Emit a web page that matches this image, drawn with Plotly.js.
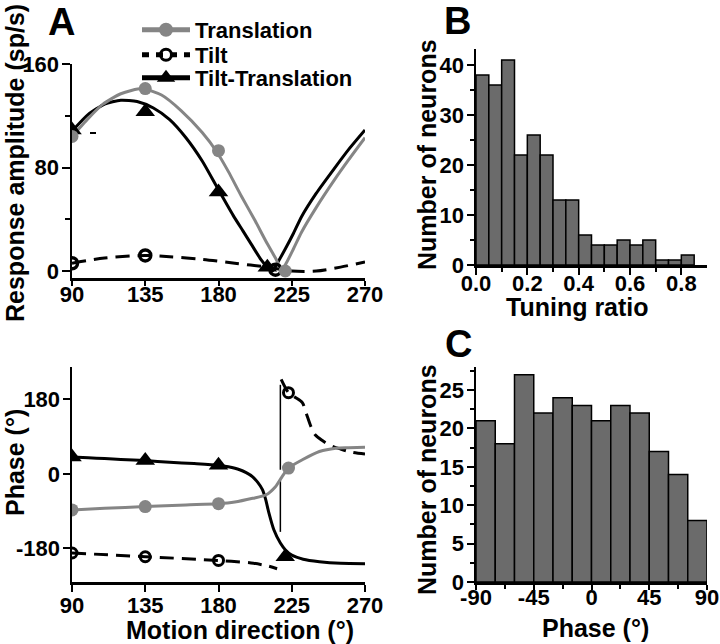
<!DOCTYPE html>
<html>
<head>
<meta charset="utf-8">
<script src="https://cdn.plot.ly/plotly-3.0.1.min.js"></script>
<style>html,body{margin:0;padding:0;background:#fff;} #chart{width:720px;height:644px;}</style>
</head>
<body>
<div id="chart"></div>
<script>
// ---------- Panel A (top): response amplitude vs motion direction ----------
const transAmpDir = [90,100,109,120,133,145,157,170,179,186,194,202,210,215,219,222,226,231,240,251,260,270];
const transAmp    = [104,118,129,137,141,136,124,107,92,77,58,40,21,10,1,7,17,30,49,70,86,103];
const transAmpMarkDir = [90,135,180,221];
const transAmpMark    = [104,141,93,0];

const tiltTransAmpDir = [90,100,110,120,130,140,150,160,170,179,189,195,200,206,210,213,217,221,226,231,240,251,260,270];
const tiltTransAmp    = [108,121,129,132,131,126,117,103,85,65,43,31,21,9,3,0,8,17,29,42,60,79,94,109];
const tiltTransAmpMarkDir = [90,135,180,210];
const tiltTransAmpMark    = [109,123,61,3];

const tiltAmpDir = [90,110,135,150,170,190,210,225,240,255,270];
const tiltAmp    = [6,10,12,11,9,6,3,0,0,3,7];
const tiltAmpMarkDir = [90,135,215];
const tiltAmpMark    = [6,12,1];

// ---------- Panel A (bottom): phase vs motion direction ----------
const transPhDir = [90,110,135,160,180,190,201,209,215,219,223,231.5,242,252,260,270];
const transPh    = [-87,-83,-79,-75,-72,-68,-59,-51,-31,-7,14,34,54,62,63,64];
const transPhMarkDir = [90,135,180,223];
const transPhMark    = [-87,-79,-72,14];

const tiltTransPhDir = [90,100,110,120,135,150,165,180,186,193,197,201,204,207,209,211,214,218,221,225,232,242,255,270];
const tiltTransPh    = [41,39,37,35,32,28,25,21,17,10,3,-7,-20,-38,-62,-95,-135,-167,-183,-196,-206,-212,-216,-217];
const tiltTransPhMarkDir = [90,135,180,221];
const tiltTransPhMark    = [41,32,21,-200];

const tiltPhDirA = [90,135,180,200,210,216];
const tiltPhA    = [-191,-200,-209,-215,-222,-229];
const tiltPhDirB = [218.5,223,227,231.5,234,237,239.5,244,248,255,262,270];
const tiltPhB    = [228,196,185,172,145,112,94,80,70,60,52,48];
const tiltPhMarkDir = [90,135,180,223];
const tiltPhMark    = [-191,-200,-209,196];
const wrapDir = [218,218,null,218,218];
const wrapPh  = [215,10,null,-15,-140];

// ---------- Panel B: tuning ratio histogram ----------
const tuningBinCenters = [0.025,0.075,0.125,0.175,0.225,0.275,0.325,0.375,0.425,0.475,0.525,0.575,0.625,0.675,0.725,0.775,0.825];
const tuningCounts     = [38,36,41,22,26,22,13,13,6,4,4,5,4,5,1,1,2];
const tuningBinWidth = 0.05;

// ---------- Panel C: phase histogram ----------
const phaseBinCenters = [-82.5,-67.5,-52.5,-37.5,-22.5,-7.5,7.5,22.5,37.5,52.5,67.5,82.5];
const phaseCounts     = [21,18,27,22,24,23,21,23,22,17,14,8];
const phaseBinWidth = 15;

// ---------- tick labels ----------
const dirTicks = [90,135,180,225,270];
const dirTickText = ['90','135','180','225','270'];
const ampTicks = [0,80,160];
const ampTickText = ['0','80','160'];
const phaseTicks = [-180,0,180];
const phaseTickText = ['-180','0','180'];
const tuningTicks = [0,0.2,0.4,0.6,0.8];
const tuningTickText = ['0.0','0.2','0.4','0.6','0.8'];
const countTicksB = [0,10,20,30,40];
const countTickTextB = ['0','10','20','30','40'];
const phaseHistTicks = [-90,-45,0,45,90];
const phaseHistTickText = ['-90','-45','0','45','90'];
const countTicksC = [0,5,10,15,20,25];
const countTickTextC = ['0','5','10','15','20','25'];

// ---------- styling ----------
const GRAY = '#858585';
const BAR = '#6b6b6b';
const FAM = 'Liberation Sans, Arial, sans-serif';
const tickFont = {family: FAM, size: 22, color: '#000', weight: 700};
const titleFont = {family: FAM, size: 25, color: '#000', weight: 'bold'};
const DASH = '14px,8px';
const bold = arr => arr.map(t => '<b>' + t + '</b>');

const px = v => v / 720;
const py = v => 1 - v / 644;

const traces = [
  // A top
  {x: tiltAmpDir, y: tiltAmp, xaxis: 'x', yaxis: 'y', mode: 'lines', line: {color: '#000', width: 3, dash: DASH, shape: 'spline', smoothing: 0.8}, showlegend: false},
  {x: tiltTransAmpDir, y: tiltTransAmp, xaxis: 'x', yaxis: 'y', mode: 'lines', line: {color: '#000', width: 3, shape: 'spline', smoothing: 0.6}, showlegend: false},
  {x: transAmpDir, y: transAmp, xaxis: 'x', yaxis: 'y', mode: 'lines', line: {color: GRAY, width: 3, shape: 'spline', smoothing: 0.6}, showlegend: false},
  {x: tiltAmpMarkDir, y: tiltAmpMark, xaxis: 'x', yaxis: 'y', mode: 'markers', marker: {symbol: 'circle-open', size: 11, color: '#000', line: {width: 3.5, color: '#000'}}, showlegend: false},
  {x: tiltTransAmpMarkDir, y: tiltTransAmpMark, xaxis: 'x', yaxis: 'y', mode: 'markers', marker: {symbol: 'triangle-up', size: 17, color: '#000'}, showlegend: false},
  {x: transAmpMarkDir, y: transAmpMark, xaxis: 'x', yaxis: 'y', mode: 'markers', marker: {symbol: 'circle', size: 13, color: GRAY}, showlegend: false},
  // A bottom
  {x: wrapDir, y: wrapPh, xaxis: 'x2', yaxis: 'y2', mode: 'lines', line: {color: '#000', width: 1.5}, connectgaps: false, showlegend: false},
  {x: tiltPhDirA, y: tiltPhA, xaxis: 'x2', yaxis: 'y2', mode: 'lines', line: {color: '#000', width: 3, dash: DASH, shape: 'spline', smoothing: 0.8}, showlegend: false},
  {x: tiltPhDirB, y: tiltPhB, xaxis: 'x2', yaxis: 'y2', mode: 'lines', line: {color: '#000', width: 3, dash: DASH, shape: 'spline', smoothing: 0.8}, showlegend: false},
  {x: tiltTransPhDir, y: tiltTransPh, xaxis: 'x2', yaxis: 'y2', mode: 'lines', line: {color: '#000', width: 3, shape: 'spline', smoothing: 0.7}, showlegend: false},
  {x: transPhDir, y: transPh, xaxis: 'x2', yaxis: 'y2', mode: 'lines', line: {color: GRAY, width: 3, shape: 'spline', smoothing: 0.7}, showlegend: false},
  {x: tiltPhMarkDir, y: tiltPhMark, xaxis: 'x2', yaxis: 'y2', mode: 'markers', marker: {symbol: 'circle-open', size: 10, color: '#000', line: {width: 3, color: '#000'}}, showlegend: false},
  {x: tiltTransPhMarkDir, y: tiltTransPhMark, xaxis: 'x2', yaxis: 'y2', mode: 'markers', marker: {symbol: 'triangle-up', size: 17, color: '#000'}, showlegend: false},
  {x: transPhMarkDir, y: transPhMark, xaxis: 'x2', yaxis: 'y2', mode: 'markers', marker: {symbol: 'circle', size: 13, color: GRAY}, showlegend: false},
  // B
  {type: 'bar', x: tuningBinCenters, y: tuningCounts, width: tuningBinWidth, xaxis: 'x3', yaxis: 'y3', marker: {color: BAR, line: {color: '#000', width: 1.5}}, showlegend: false},
  // C
  {type: 'bar', x: phaseBinCenters, y: phaseCounts, width: phaseBinWidth, xaxis: 'x4', yaxis: 'y4', marker: {color: BAR, line: {color: '#000', width: 1.5}}, showlegend: false},
  // legend entries
  {x: [null], y: [null], xaxis: 'x', yaxis: 'y', name: 'Translation', mode: 'lines+markers', line: {color: GRAY, width: 5}, marker: {symbol: 'circle', size: 14, color: GRAY}, legend: 'legend'},
  {x: [null], y: [null], xaxis: 'x', yaxis: 'y', name: 'Tilt', mode: 'lines+markers', line: {color: '#000', width: 5, dash: '7px,7px'}, marker: {symbol: 'circle-open', size: 11, color: '#000', line: {width: 3, color: '#000'}}, legend: 'legend2'},
  {x: [null], y: [null], xaxis: 'x', yaxis: 'y', name: 'Tilt-Translation', mode: 'lines+markers', line: {color: '#000', width: 5}, marker: {symbol: 'triangle-up', size: 17, color: '#000'}, legend: 'legend3'}
];

function axisBase(extra) {
  return Object.assign({
    showline: true, linewidth: 2.5, linecolor: '#000', mirror: false,
    ticks: 'outside', ticklen: 7, tickwidth: 2, tickcolor: '#000',
    showgrid: false, zeroline: false, tickfont: tickFont, fixedrange: true,
    tickmode: 'array'
  }, extra);
}
const minor = (o) => Object.assign({ticks: 'outside', ticklen: 4, tickwidth: 2, tickcolor: '#000', showgrid: false}, o);

const legendBase = (ycenter) => ({
  x: px(137), y: py(ycenter), xanchor: 'left', yanchor: 'middle',
  bgcolor: 'rgba(0,0,0,0)', borderwidth: 0, itemwidth: 48,
  font: {family: FAM, size: 22, color: '#000', weight: 'bold'}
});

const layout = {
  width: 720, height: 644, autosize: false,
  margin: {l: 0, r: 0, t: 0, b: 0},
  paper_bgcolor: '#fff', plot_bgcolor: 'rgba(0,0,0,0)',
  showlegend: true,
  legend: legendBase(30),
  legend2: legendBase(55),
  legend3: legendBase(78),
  bargap: 0,
  xaxis: axisBase({domain: [px(72), px(365)], range: [90, 270], tickvals: dirTicks, ticktext: bold(dirTickText), anchor: 'y', ticklen: 5, ticklabelstandoff: -10}),
  yaxis: axisBase({domain: [py(278), py(64)], range: [-5.4, 160], tickvals: ampTicks, ticktext: bold(ampTickText), anchor: 'x', ticklen: 8, ticklabelstandoff: -2, minor: minor({tickvals: [40,120], ticklen: 5})}),
  xaxis2: axisBase({domain: [px(72), px(365)], range: [90, 270], tickvals: dirTicks, ticktext: bold(dirTickText), anchor: 'y2', ticklabelstandoff: -5}),
  yaxis2: axisBase({domain: [py(582), py(367)], range: [-261, 258], tickvals: phaseTicks, ticktext: bold(phaseTickText), anchor: 'x2', ticklabelstandoff: -2}),
  xaxis3: axisBase({domain: [px(476), px(707)], range: [0, 0.9], tickvals: tuningTicks, ticktext: bold(tuningTickText), anchor: 'y3', ticklabelstandoff: -10, minor: minor({tickvals: [0.1,0.3,0.5,0.7]})}),
  yaxis3: axisBase({domain: [py(265), py(49)], range: [0, 43.2], tickvals: countTicksB, ticktext: bold(countTickTextB), anchor: 'x3', ticklabelstandoff: -2, minor: minor({tickvals: [5,15,25,35]})}),
  xaxis4: axisBase({domain: [px(476), px(707)], range: [-90, 90], tickvals: phaseHistTicks, ticktext: bold(phaseHistTickText), anchor: 'y4', ticklen: 5, ticklabelstandoff: -11, minor: minor({tickvals: [-67.5,-22.5,22.5,67.5]})}),
  yaxis4: axisBase({domain: [py(582), py(367)], range: [0, 28], tickvals: countTicksC, ticktext: bold(countTickTextC), anchor: 'x4', ticklabelstandoff: -2, minor: minor({tickvals: [2.5,7.5,12.5,17.5,22.5,27.5]})}),
  shapes: [
    {type: 'line', xref: 'paper', yref: 'paper', x0: px(90), x1: px(96), y0: py(133), y1: py(133), line: {color: '#000', width: 2}}
  ],
  annotations: [
    {text: 'A', x: px(61), y: py(22), xref: 'paper', yref: 'paper', showarrow: false, xanchor: 'center', yanchor: 'middle', font: {family: FAM, size: 38, color: '#000', weight: 'bold'}},
    {text: 'B', x: px(457), y: py(21), xref: 'paper', yref: 'paper', showarrow: false, xanchor: 'center', yanchor: 'middle', font: {family: FAM, size: 38, color: '#000', weight: 'bold'}},
    {text: 'C', x: px(458), y: py(344), xref: 'paper', yref: 'paper', showarrow: false, xanchor: 'center', yanchor: 'middle', font: {family: FAM, size: 38, color: '#000', weight: 'bold'}},
    {text: 'Response amplitude (sp/s)', textangle: -90, x: px(15), y: py(163), xref: 'paper', yref: 'paper', showarrow: false, xanchor: 'center', yanchor: 'middle', font: titleFont},
    {text: 'Phase (°)', textangle: -90, x: px(15), y: py(463), xref: 'paper', yref: 'paper', showarrow: false, xanchor: 'center', yanchor: 'middle', font: titleFont},
    {text: 'Motion direction (°)', x: px(240), y: py(630), xref: 'paper', yref: 'paper', showarrow: false, xanchor: 'center', yanchor: 'middle', font: titleFont},
    {text: 'Number of neurons', textangle: -90, x: px(427), y: py(155), xref: 'paper', yref: 'paper', showarrow: false, xanchor: 'center', yanchor: 'middle', font: titleFont},
    {text: 'Tuning ratio', x: px(577), y: py(307), xref: 'paper', yref: 'paper', showarrow: false, xanchor: 'center', yanchor: 'middle', font: titleFont},
    {text: 'Number of neurons', textangle: -90, x: px(427), y: py(480), xref: 'paper', yref: 'paper', showarrow: false, xanchor: 'center', yanchor: 'middle', font: titleFont},
    {text: 'Phase (°)', x: px(595), y: py(628), xref: 'paper', yref: 'paper', showarrow: false, xanchor: 'center', yanchor: 'middle', font: titleFont}
  ]
};

Plotly.newPlot('chart', traces, layout, {staticPlot: true, displayModeBar: false});
</script>
</body>
</html>
